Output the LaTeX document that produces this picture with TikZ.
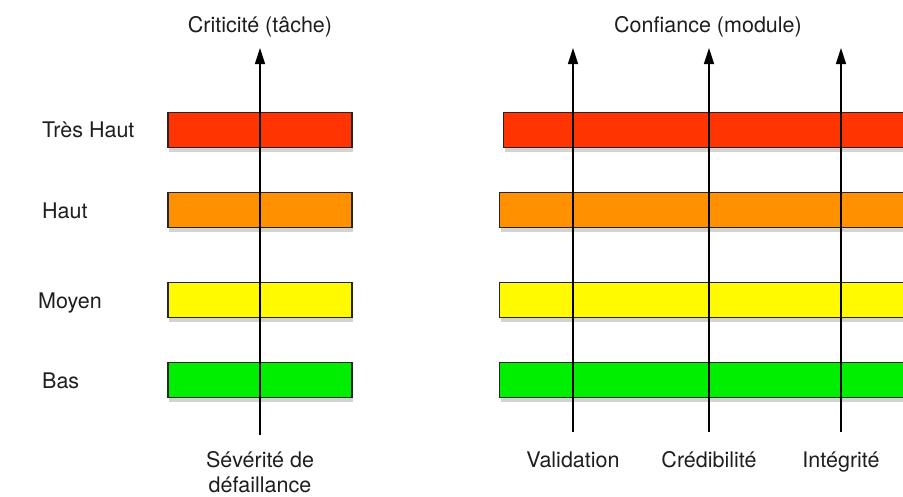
\documentclass[tikz,border=0pt]{standalone}
\usepackage{fontspec}
\setmainfont{TeX Gyre Heros}
\usetikzlibrary{arrows.meta,shadows}

\definecolor{tresHaut}{RGB}{255,52,0}
\definecolor{haut}{RGB}{255,145,0}
\definecolor{moyen}{RGB}{255,250,0}
\definecolor{bas}{RGB}{0,238,0}
\definecolor{texte}{RGB}{30,30,30}

\begin{document}
\begin{tikzpicture}[x=1pt,y=-1pt,
	niveau/.style={draw=black!85,line width=1.2pt,minimum height=35pt,inner sep=0pt,
		drop shadow={opacity=0.35,shadow xshift=1pt,shadow yshift=-4pt}},
	axe/.style={line width=1.3pt,-{Triangle[length=16pt,width=10pt]}},
	lbl/.style={text=texte,font=\fontsize{21.5}{25}\selectfont,inner sep=0pt}]
		\useasboundingbox (0,0) rectangle (903,496);
		% barres de gauche (tache)
		\node[niveau,fill=tresHaut,minimum width=184pt] (t1) at (260,130) {};
		\node[niveau,fill=haut,minimum width=184pt] (t2) at (260,210) {};
		\node[niveau,fill=moyen,minimum width=184pt] (t3) at (260,300) {};
		\node[niveau,fill=bas,minimum width=184pt] (t4) at (260,380) {};
		% barres de droite (module)
		\node[niveau,fill=tresHaut,minimum width=410pt,anchor=west] (m1) at (503,130) {};
		\node[niveau,fill=haut,minimum width=414pt,anchor=west] (m2) at (499,210) {};
		\node[niveau,fill=moyen,minimum width=414pt,anchor=west] (m3) at (499,300) {};
		\node[niveau,fill=bas,minimum width=414pt,anchor=west] (m4) at (499,380) {};
		
		\node[lbl,anchor=base west] (l1) at (42,137) {Très Haut};
		\node[lbl,anchor=base west] (l2) at (42,218) {Haut};
		\node[lbl,anchor=base west] (l3) at (38,308) {Moyen};
		\node[lbl,anchor=base west] (l4) at (42,388) {Bas};
		
		% axes
		\coordinate (s0) at (260,435);
		\coordinate (s1) at (573,432);
		\coordinate (s2) at (709,432);
		\coordinate (s3) at (841,432);
		\coordinate (h0) at (260,48);
		\coordinate (h1) at (573,48);
		\coordinate (h2) at (709,48);
		\coordinate (h3) at (841,48);
		\draw[axe] (s0) -- (h0);
		\draw[axe] (s1) -- (h1);
		\draw[axe] (s2) -- (h2);
		\draw[axe] (s3) -- (h3);
		
		\node[lbl,anchor=base] (crit) at (260,32) {Criticité (tâche)};
		\node[lbl,anchor=base] (conf) at (708,32) {Confiance (module)};
		\node[lbl,anchor=base] (sev) at (260,467) {Sévérité de};
		\node[lbl,anchor=base] (def) at (260,492) {défaillance};
		\node[lbl,anchor=base] (val) at (573,467) {Validation};
		\node[lbl,anchor=base] (cred) at (709,467) {Crédibilité};
		\node[lbl,anchor=base] (integ) at (841,467) {Intégrité};
\end{tikzpicture}
\end{document}
